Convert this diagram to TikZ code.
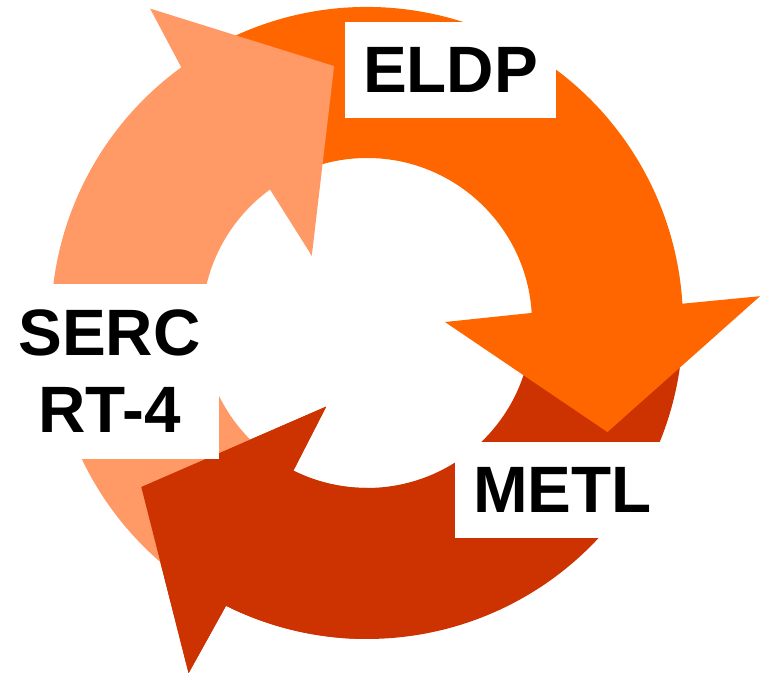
\documentclass[tikz,border=0pt]{standalone}
\usepackage{fontspec}
\setmainfont{Liberation Sans}
\definecolor{light}{HTML}{FF9966}
\definecolor{mid}{HTML}{FF6600}
\definecolor{dark}{HTML}{CC3300}
\tikzset{
  lb/.style={fill=white, inner sep=0pt, align=center,
    font=\fontsize{32.8}{38.5}\selectfont\bfseries}
}
% #1 colour, #2 tail, #3 base, #4 outer barb, #5 tip, #6 inner barb
\newcommand{\cyclearrow}[6]{%
  \fill[#1] (#2:316) arc[start angle=#2, end angle=#3, radius=316]
    -- (#4) -- (#5) -- (#6) -- (#3:165)
    arc[start angle=#3, end angle=#2, radius=165] -- cycle;}
\begin{document}
\begin{tikzpicture}[x=0.5pt, y=0.5pt]
  \useasboundingbox (0,0) rectangle (761,673);
  \begin{scope}[shift={(367,350)}]
    \cyclearrow{dark}{354}{243.5}{243:393}{216:279}{244:93}
    \cyclearrow{mid}{120}{3.5}{3.9:394}{-24.4:264}{0.7:78}
    \cyclearrow{light}{234}{126}{124.6:382}{97.3:259}{129.4:87}
    % dark head goes over the light tail
    \cyclearrow{dark}{270}{243.5}{243:393}{216:279}{244:93}
  \end{scope}
  \node[lb, minimum width=105.5pt, minimum height=48pt] (eldp) at (450.5,603) {ELDP};
  \node[lb, minimum width=107.5pt, minimum height=48pt] (metl) at (562.5,183) {METL};
  \node[lb, minimum width=109.5pt, minimum height=87.5pt] (serc) at (109.5,301.5) {SERC\\RT-4};
\end{tikzpicture}
\end{document}
